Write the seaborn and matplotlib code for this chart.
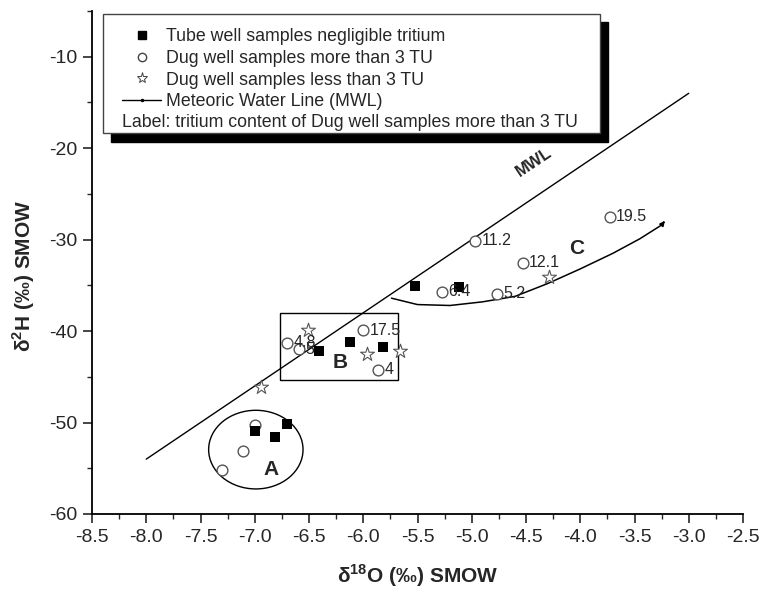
import matplotlib
matplotlib.use("Agg")
import matplotlib.pyplot as plt
import seaborn as sns
from matplotlib.patches import Ellipse, Rectangle
from matplotlib.lines import Line2D
from matplotlib.ticker import MultipleLocator

# ---- data ----
tube_x = [-5.52, -5.12, -6.41, -6.12, -5.82, -7.00, -6.81, -6.70]
tube_y = [-35.1, -35.2, -42.2, -41.2, -41.7, -50.9, -51.6, -50.2]

dughi_x = [-4.97, -4.53, -3.73, -5.27, -4.77, -6.70, -6.59, -6.00, -5.86, -7.00, -7.11, -7.30]
dughi_y = [-30.1, -32.5, -27.5, -35.7, -35.9, -41.3, -42.0, -39.9, -44.2, -50.3, -53.1, -55.2]
dughi_lab = ["11.2", "12.1", "19.5", "6.4", "5.2", "4.8", "5", "17.5", "4", "", "", ""]

duglo_x = [-6.51, -5.97, -5.66, -6.94, -4.29]
duglo_y = [-39.9, -42.5, -42.2, -46.1, -34.1]

mwl_x = [-8.0, -3.0]
mwl_y = [-54.0, -14.0]

curveC_x = [-5.74, -5.5, -5.2, -4.9, -4.6, -4.3, -4.0, -3.7, -3.45, -3.25]
curveC_y = [-36.4, -37.1, -37.2, -36.8, -36.2, -34.8, -33.2, -31.5, -29.9, -28.4]

x_ticks = [-8.5, -8.0, -7.5, -7.0, -6.5, -6.0, -5.5, -5.0, -4.5, -4.0, -3.5, -3.0, -2.5]
y_ticks = [-60, -50, -40, -30, -20, -10]

legend_labels = ["Tube well samples negligible tritium",
                 "Dug well samples more than 3 TU",
                 "Dug well samples less than 3 TU",
                 "Meteoric Water Line (MWL)"]
legend_note = "Label: tritium content of Dug well samples more than 3 TU"

# ---- style ----
sns.set_style("ticks")
plt.rcParams["font.family"] = ["Liberation Sans", "DejaVu Sans"]
plt.rcParams["mathtext.fontset"] = "custom"
plt.rcParams["mathtext.rm"] = "Liberation Sans"
plt.rcParams["mathtext.bf"] = "Liberation Sans:bold"

fig = plt.figure(figsize=(7.6, 5.94), dpi=100)
ax = fig.add_axes([92 / 760, 80 / 594, (743 - 92) / 760, (514 - 11) / 594])

# MWL
sns.lineplot(x=mwl_x, y=mwl_y, color="black", lw=1.0, ax=ax, zorder=2)
# curve C
sns.lineplot(x=curveC_x, y=curveC_y, sort=False, color="black", lw=1.1, ax=ax, zorder=2)
ax.annotate("", xy=(curveC_x[-1] + 0.03, curveC_y[-1] + 0.45), xytext=(curveC_x[-1], curveC_y[-1]),
            arrowprops=dict(arrowstyle="-|>", color="black", lw=1.1, mutation_scale=7))

# points
sns.scatterplot(x=tube_x, y=tube_y, marker="s", color="black", s=42, linewidth=0, ax=ax, zorder=4)
sns.scatterplot(x=dughi_x, y=dughi_y, marker="o", color="white", edgecolor="#555555",
                s=60, linewidth=1.0, ax=ax, zorder=3)
sns.scatterplot(x=duglo_x, y=duglo_y, marker="*", color="white", edgecolor="#555555",
                s=110, linewidth=0.8, ax=ax, zorder=3)

for x, y, t in zip(dughi_x, dughi_y, dughi_lab):
    if t:
        ax.annotate(t, (x, y), xytext=(4.5, 0), textcoords="offset points",
                    va="center", ha="left", fontsize=11.5, zorder=5)

# group shapes
ax.add_patch(Ellipse((-6.99, -52.96), 0.87, 8.6, fill=False, edgecolor="black", lw=1.0))
ax.add_patch(Rectangle((-6.77, -45.3), 1.09, 7.3, fill=False, edgecolor="black", lw=1.0))
ax.text(-6.85, -55.1, "A", fontsize=15, fontweight="bold", ha="center", va="center")
ax.text(-6.21, -43.4, "B", fontsize=15, fontweight="bold", ha="center", va="center")
ax.text(-4.03, -31.0, "C", fontsize=15, fontweight="bold", ha="center", va="center")
ax.text(-4.43, -21.5, "MWL", fontsize=12, fontweight="bold", rotation=33.7,
        ha="center", va="center", rotation_mode="anchor")

# axes
ax.set_xlim(-8.5, -2.5)
ax.set_ylim(-60, -5)
ax.set_xticks(x_ticks)
ax.set_xticklabels([f"{v:.1f}" for v in x_ticks])
ax.set_yticks(y_ticks)
ax.set_yticklabels([str(v) for v in y_ticks])
ax.xaxis.set_minor_locator(MultipleLocator(0.25))
ax.yaxis.set_minor_locator(MultipleLocator(5))
ax.tick_params(which="major", direction="out", length=6.5, width=1.2, labelsize=14, pad=4)
ax.tick_params(which="minor", direction="out", length=3.5, width=1.0)
sns.despine(ax=ax)
for s in ["left", "bottom"]:
    ax.spines[s].set_linewidth(1.3)
    ax.spines[s].set_color("black")

ax.set_xlabel("δ$^{\\mathbf{18}}$O (‰) SMOW", fontsize=15, fontweight="bold", labelpad=12)
ax.set_ylabel("δ$^{\\mathbf{2}}$H (‰) SMOW", fontsize=15, fontweight="bold")
ax.yaxis.set_label_coords(-0.084, 0.473)

# legend box with black shadow
fig.add_artist(Rectangle((111 / 760, 1 - 142 / 594), 497 / 760, 120 / 594,
                         transform=fig.transFigure, facecolor="black", edgecolor="black", zorder=8))
fig.add_artist(Rectangle((103 / 760, 1 - 133 / 594), 497 / 760, 119 / 594,
                         transform=fig.transFigure, facecolor="white", edgecolor="#444444",
                         lw=1.0, zorder=9))

handles = [
    Line2D([], [], ls="none", marker="s", color="black", markersize=5.5),
    Line2D([], [], ls="none", marker="o", markerfacecolor="white", markeredgecolor="#444444", markersize=6),
    Line2D([], [], ls="none", marker="*", markerfacecolor="white", markeredgecolor="#444444", markersize=8,
           markeredgewidth=0.7),
    Line2D([], [], color="black", lw=1.0, marker=".", markersize=3),
]
leg = fig.legend(handles, legend_labels, loc="upper left",
                 bbox_to_anchor=(122 / 760, 1 - 28 / 594), bbox_transform=fig.transFigure,
                 frameon=False, fontsize=12.8, handlelength=2.2, handletextpad=0.3,
                 labelspacing=0.27, borderpad=0, borderaxespad=0)
leg.set_zorder(10)
fig.text(122 / 760, 1 - 122 / 594, legend_note, fontsize=12.8, va="center", ha="left", zorder=10)

fig.savefig("out.png", dpi=100)
